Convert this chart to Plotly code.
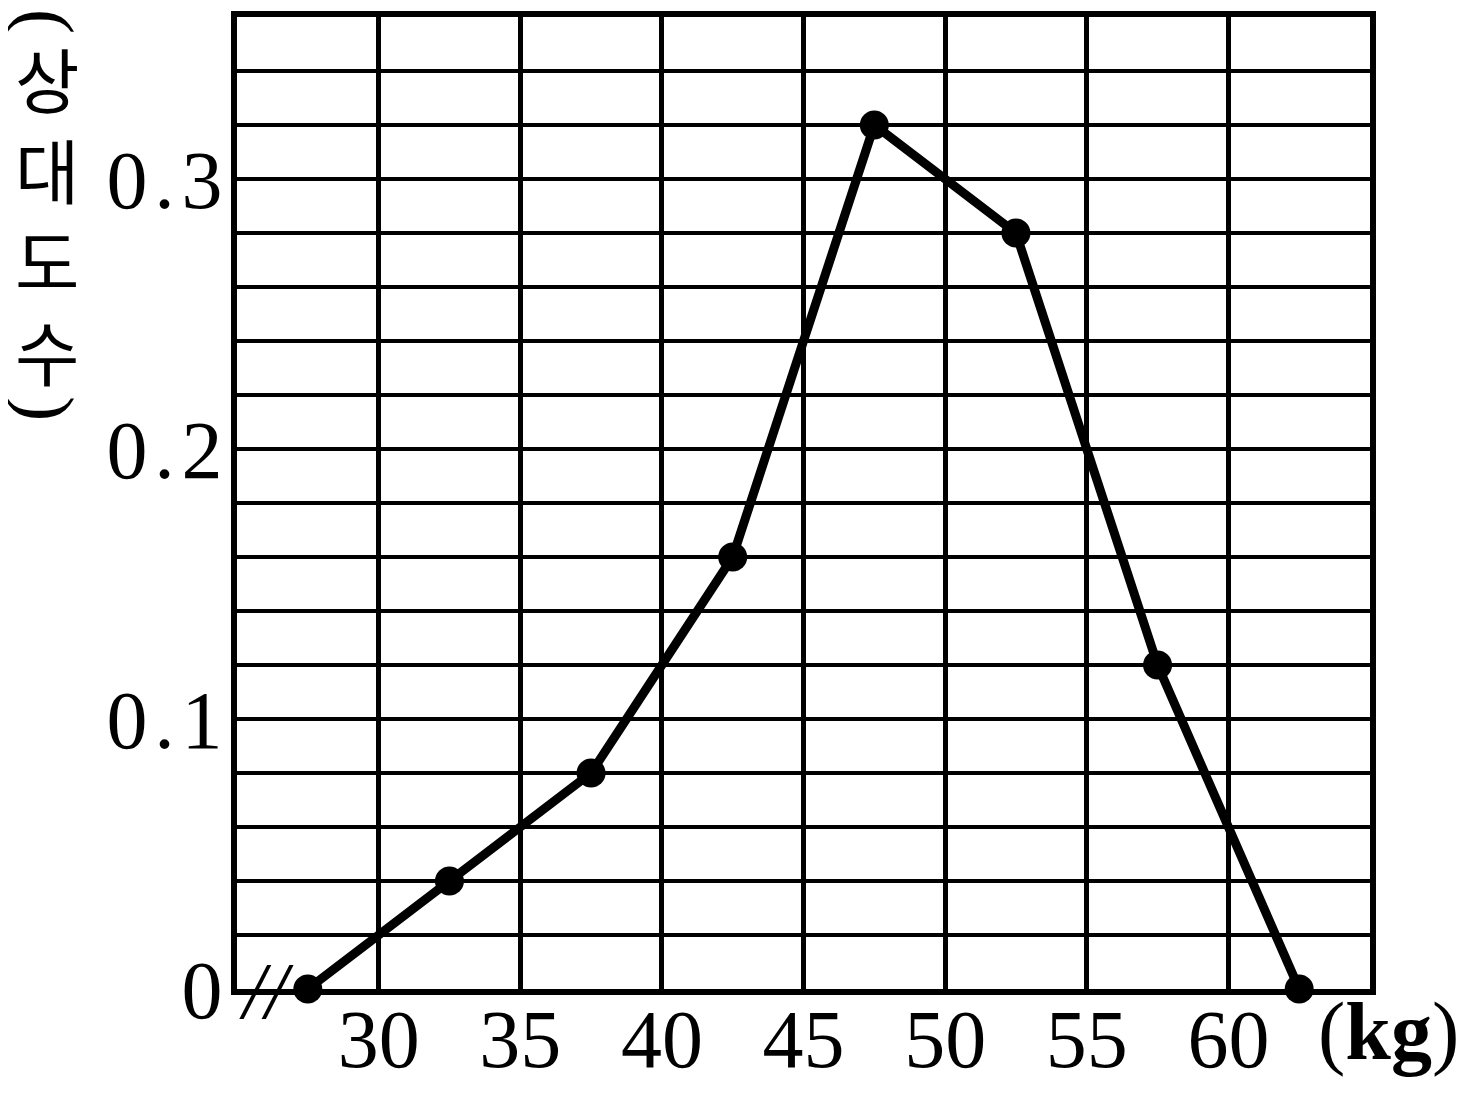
import plotly.graph_objects as go

# Data
weights = [27.5, 32.5, 37.5, 42.5, 47.5, 52.5, 57.5, 62.5]
rel_freq = [0, 0.04, 0.08, 0.16, 0.32, 0.28, 0.12, 0]
x_ticks = [30, 35, 40, 45, 50, 55, 60]
x_labels = ["30", "35", "40", "45", "50", "55", "60"]
y_ticks = [0, 0.1, 0.2, 0.3]
y_labels = ["0", "0\u200a.\u200a1", "0\u200a.\u200a2", "0\u200a.\u200a3"]
y_title = "상<br>대<br>도<br>수"

SERIF = "Liberation Serif"
fig = go.Figure()
fig.add_trace(go.Scatter(
    x=weights, y=rel_freq, mode="lines+markers",
    line=dict(color="black", width=9),
    marker=dict(color="black", size=29),
    cliponaxis=False, showlegend=False,
))

fig.update_layout(
    width=1472, height=1085,
    margin=dict(l=229, r=110, t=9, b=104, autoexpand=False),
    paper_bgcolor="white", plot_bgcolor="white",
    font=dict(family=SERIF, color="black", size=82),
    xaxis=dict(
        range=[25, 65], tickvals=x_ticks, ticktext=x_labels,
        showgrid=True, gridcolor="black", gridwidth=5,
        showline=True, linecolor="black", linewidth=6, mirror=True,
        ticks="", zeroline=False, ticklabelstandoff=-26, automargin=False,
        tickfont=dict(family=SERIF, size=82),
    ),
    yaxis=dict(
        range=[0, 0.36], tickvals=y_ticks, ticktext=y_labels,
        showgrid=True, gridcolor="black", gridwidth=4,
        minor=dict(dtick=0.02, showgrid=True, gridcolor="black", gridwidth=3.5, ticks=""),
        showline=True, linecolor="black", linewidth=6, mirror=True,
        ticks="", zeroline=False, ticklabelstandoff=-8, automargin=False,
        tickfont=dict(family=SERIF, size=82),
    ),
)

# Vertical y-axis title (상대도수), characters stacked, parentheses turned
fig.add_annotation(xref="paper", yref="paper", x=0, y=1, xshift=-190, yshift=-197,
                   text=y_title, showarrow=False, align="center",
                   font=dict(family="Noto Sans CJK KR", size=70),
                   xanchor="center", yanchor="middle")
fig.add_annotation(xref="paper", yref="paper", x=0, y=1, xshift=-190, yshift=-4,
                   text="(", textangle=90, showarrow=False,
                   font=dict(family=SERIF, size=76), xanchor="center", yanchor="middle")
fig.add_annotation(xref="paper", yref="paper", x=0, y=1, xshift=-190, yshift=-391,
                   text=")", textangle=90, showarrow=False,
                   font=dict(family=SERIF, size=76), xanchor="center", yanchor="middle")

# axis break mark
fig.add_annotation(xref="x", yref="y", x=26.05, y=0, yshift=-2, text="<i>//</i>",
                   showarrow=False, font=dict(family=SERIF, size=80),
                   xanchor="center", yanchor="middle")

# unit label
fig.add_annotation(xref="paper", yref="paper", x=1, y=0, xshift=-54, yshift=-42,
                   text="(<b>kg</b>)", showarrow=False,
                   font=dict(family=SERIF, size=82), xanchor="left", yanchor="middle")

fig.write_html("out.html")
